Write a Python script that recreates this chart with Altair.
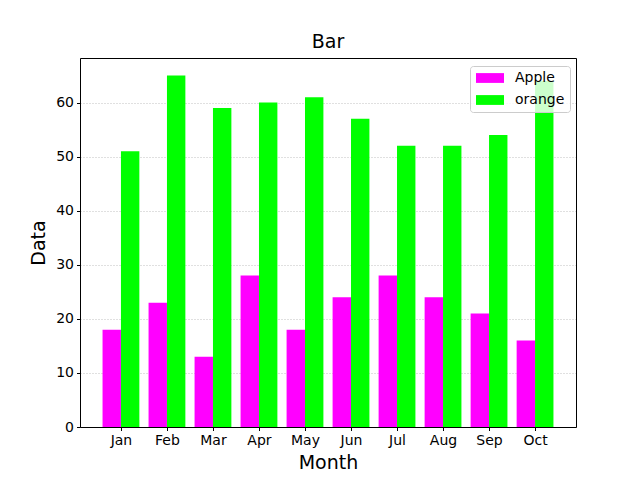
import altair as alt
import pandas as pd

months = ["Jan", "Feb", "Mar", "Apr", "May", "Jun", "Jul", "Aug", "Sep", "Oct"]
apple = [18, 23, 13, 28, 18, 24, 28, 24, 21, 16]
orange = [51, 65, 59, 60, 61, 57, 52, 52, 54, 64]
fruits = ["Apple", "orange"]
colors = ["#ff00ff", "#00ff00"]

rows = []
for i, m in enumerate(months):
    rows.append({"idx": i, "month": m, "fruit": "Apple", "value": apple[i], "off": -0.4})
    rows.append({"idx": i, "month": m, "fruit": "orange", "value": orange[i], "off": 0.0})
df = pd.DataFrame(rows)

font = "DejaVu Sans"
label_expr = "[" + ",".join("'%s'" % m for m in months) + "][round(datum.value)]"
xscale = alt.Scale(domain=[-0.89, 9.89], nice=False, zero=False, padding=0)
yscale = alt.Scale(domain=[0, 68.25], nice=False, padding=0)

base = alt.Chart(df).transform_calculate(
    x0="datum.idx + datum.off", x1="datum.idx + datum.off + 0.4"
)

bars = base.mark_bar(opacity=1).encode(
    x=alt.X(
        "x0:Q",
        scale=xscale,
        axis=alt.Axis(
            title="Month",
            values=list(range(len(months))),
            labelExpr=label_expr,
            grid=False,
            tickColor="black",
            domainColor="black",
            tickSize=3.5,
            labelPadding=3,
            labelFontSize=14,
            labelColor="black",
            titleFontSize=19,
            titleFontWeight="normal",
            titleColor="black",
            titlePadding=6,
            labelFont=font,
            titleFont=font,
        ),
    ),
    x2="x1:Q",
    y=alt.Y(
        "value:Q",
        scale=yscale,
        axis=alt.Axis(
            title="Data",
            values=[0, 10, 20, 30, 40, 50, 60],
            grid=True,
            gridColor="#b0b0b0",
            gridDash=[1, 2],
            gridWidth=0.8,
            tickColor="black",
            domainColor="black",
            tickSize=3.5,
            labelPadding=3,
            labelFontSize=14,
            labelColor="black",
            titleFontSize=19,
            titleFontWeight="normal",
            titleColor="black",
            titlePadding=7,
            labelFont=font,
            titleFont=font,
        ),
    ),
    y2=alt.datum(0),
    color=alt.Color(
        "fruit:N",
        scale=alt.Scale(domain=fruits, range=colors),
        legend=alt.Legend(
            title=None,
            orient="none",
            legendX=390,
            legendY=8,
            symbolType="M-2,-0.7L2,-0.7L2,0.7L-2,0.7Z",
            symbolSize=196,
            symbolStrokeWidth=0,
            symbolOpacity=1,
            symbolOffset=8,
            labelFontSize=14,
            labelFont=font,
            labelColor="black",
            labelOffset=18,
            rowPadding=8,
            padding=5,
            strokeColor="#cccccc",
            fillColor="rgba(255,255,255,0.8)",
            cornerRadius=3,
        ),
    ),
)

frame = base.mark_point(opacity=0).encode(
    x=alt.X("x0:Q", scale=xscale,
            axis=alt.Axis(orient="top", title=None, labels=False, ticks=False, grid=False, domainColor="black")),
    y=alt.Y("value:Q", scale=yscale,
            axis=alt.Axis(orient="right", title=None, labels=False, ticks=False, grid=False, domainColor="black")),
)

chart = (
    alt.layer(bars, frame)
    .resolve_axis(x="independent", y="independent")
    .properties(
        width=496,
        height=369,
        title=alt.TitleParams("Bar", fontSize=19, fontWeight="normal", font=font, color="black", offset=6),
        autosize=alt.AutoSizeParams(type="none"),
        padding={"left": 80, "top": 58, "right": 64, "bottom": 53},
    )
    .configure_view(strokeWidth=0)
    .configure(background="white")
)

chart.save("out.html", embed_options={"renderer": "svg", "actions": False})
